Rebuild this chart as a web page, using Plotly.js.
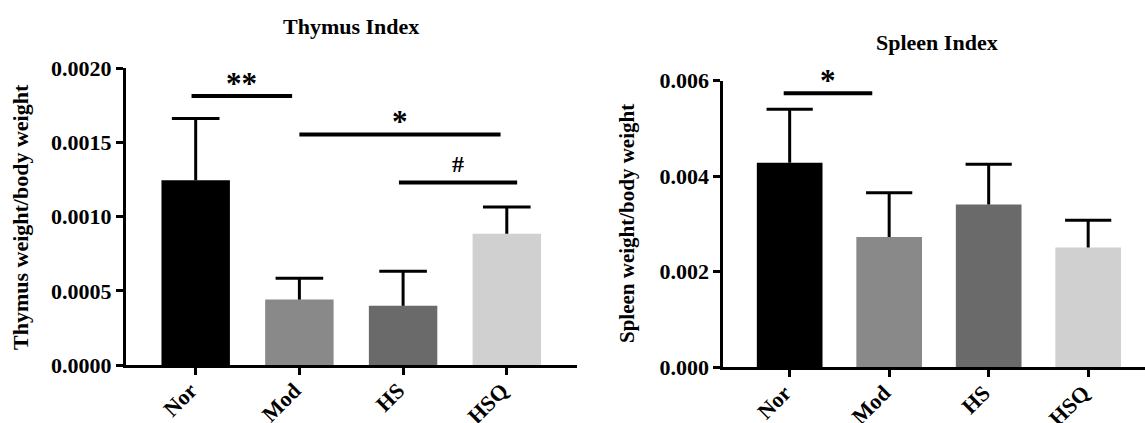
<!DOCTYPE html>
<html>
<head>
<meta charset="utf-8">
<script src="https://cdn.plot.ly/plotly-3.0.1.min.js"></script>
<style>html,body{margin:0;padding:0;background:#fff;}#chart{width:1145px;height:423px;}</style>
</head>
<body>
<div id="chart"></div>
<script>
// ---- data ----
const groups = ['Nor', 'Mod', 'HS', 'HSQ'];
const groupColors = ['#000000', '#898989', '#6a6a6a', '#d0d0d0'];

const thymusMean = [0.001245, 0.000441, 0.000399, 0.000885];
const thymusSD   = [0.000417, 0.000144, 0.000233, 0.000180];

const spleenMean = [0.00428, 0.00273, 0.00341, 0.00251];
const spleenSD   = [0.00112, 0.000925, 0.00084, 0.000567];

// significance brackets (category index units)
const thymusSigFrom = [-0.04, 1.0, 1.96];
const thymusSigTo   = [0.93, 2.94, 3.10];
const thymusSigY    = [0.001813, 0.001554, 0.00123];
const thymusSigText = ['**', '*', '#'];

const spleenSigFrom = [-0.06];
const spleenSigTo   = [0.83];
const spleenSigY    = [0.005736];
const spleenSigText = ['*'];

const thymusTicks = [0, 0.0005, 0.001, 0.0015, 0.002];
const thymusTickText = ['0.0000', '0.0005', '0.0010', '0.0015', '0.0020'];
const spleenTicks = [0, 0.002, 0.004, 0.006];
const spleenTickText = ['0.000', '0.002', '0.004', '0.006'];

// ---- layout helpers ----
const W = 1145, H = 423;
const px = v => v / W;
const py = v => 1 - v / H;
const FONT = 'Liberation Serif, Times New Roman, serif';
const idx = groups.map((_, i) => i);

function barTrace(mean, xa, ya) {
  return {
    type: 'bar', x: idx, y: mean, width: 0.66,
    marker: {color: groupColors, line: {width: 0}},
    xaxis: xa, yaxis: ya, hoverinfo: 'skip', showlegend: false
  };
}
function errTrace(mean, sd, xa, ya, capSize) {
  return {
    type: 'scatter', mode: 'markers', x: idx, y: mean.map((m, i) => m + sd[i]),
    marker: {symbol: 'line-ew', size: capSize, color: '#000', line: {color: '#000', width: 3}},
    error_y: {type: 'data', symmetric: false, array: sd.map(() => 0), arrayminus: sd,
              color: '#000', thickness: 3, width: 0},
    xaxis: xa, yaxis: ya, hoverinfo: 'skip', showlegend: false, cliponaxis: false
  };
}

const traces = [
  barTrace(thymusMean, 'x', 'y'),
  errTrace(thymusMean, thymusSD, 'x', 'y', 34),
  barTrace(spleenMean, 'x2', 'y2'),
  errTrace(spleenMean, spleenSD, 'x2', 'y2', 33)
];

const tickFont = {family: FONT, size: 22, color: '#000', weight: 'bold'};

function xax(domain, range) {
  return {
    domain: domain, range: range, tickmode: 'array', tickvals: idx, ticktext: groups,
    tickangle: -45, ticks: 'outside', ticklen: 7, tickwidth: 3, tickcolor: '#000',
    ticklabelstandoff: -6, ticklabelshift: -5,
    showline: true, linecolor: '#000', linewidth: 3, showgrid: false, zeroline: false,
    tickfont: tickFont, fixedrange: true
  };
}
function yax(domain, range, tv, tt, anchor) {
  return {
    domain: domain, range: range, tickmode: 'array', tickvals: tv, ticktext: tt,
    ticks: 'outside', ticklen: 7, tickwidth: 3, tickcolor: '#000',
    showline: true, linecolor: '#000', linewidth: 3, showgrid: false, zeroline: false,
    tickfont: tickFont, anchor: anchor, fixedrange: true
  };
}

const shapes = [];
const annotations = [];
function addSig(from, to, ys, texts, xr, yr) {
  for (let i = 0; i < from.length; i++) {
    shapes.push({type: 'line', xref: xr, yref: yr, x0: from[i], x1: to[i], y0: ys[i], y1: ys[i],
                 line: {color: '#000', width: 4}});
    const isHash = texts[i] === '#';
    annotations.push({xref: xr, yref: yr, x: (from[i] + to[i]) / 2, y: ys[i], text: texts[i],
      showarrow: false, xanchor: 'center', yanchor: 'bottom', yshift: isHash ? 4 : -7,
      font: {family: FONT, size: isHash ? 24 : 31, color: '#000', weight: 'bold'}});
  }
}
addSig(thymusSigFrom, thymusSigTo, thymusSigY, thymusSigText, 'x', 'y');
addSig(spleenSigFrom, spleenSigTo, spleenSigY, spleenSigText, 'x2', 'y2');

// titles
const titleFont = {family: FONT, size: 22, color: '#000', weight: 'bold'};
annotations.push({xref: 'paper', yref: 'paper', x: px(351), y: py(27), xanchor: 'center', yanchor: 'middle',
  text: 'Thymus Index', showarrow: false, font: titleFont});
annotations.push({xref: 'paper', yref: 'paper', x: px(937), y: py(42), xanchor: 'center', yanchor: 'middle',
  text: 'Spleen Index', showarrow: false, font: titleFont});
annotations.push({xref: 'paper', yref: 'paper', x: px(21), y: py(217), xanchor: 'center', yanchor: 'middle',
  text: 'Thymus weight/body weight', textangle: -90, showarrow: false,
  font: {family: FONT, size: 22, color: '#000', weight: 'bold'}});
annotations.push({xref: 'paper', yref: 'paper', x: px(627), y: py(224), xanchor: 'center', yanchor: 'middle',
  text: 'Spleen weight/body weight', textangle: -90, showarrow: false,
  font: {family: FONT, size: 21, color: '#000', weight: 'bold'}});

const layout = {
  width: W, height: H, margin: {l: 0, r: 0, t: 0, b: 0},
  paper_bgcolor: '#fff', plot_bgcolor: 'rgba(0,0,0,0)',
  showlegend: false,
  xaxis: xax([px(126), px(577)], [-0.672, 3.677]),
  yaxis: yax([py(365), py(68.3)], [0, 0.002], thymusTicks, thymusTickText, 'x'),
  xaxis2: xax([px(723.3), 1], [-0.667, 3.571]),
  yaxis2: yax([py(367.3), py(80.7)], [0, 0.006], spleenTicks, spleenTickText, 'x2'),
  shapes: shapes, annotations: annotations
};
layout.xaxis.anchor = 'y';
layout.xaxis2.anchor = 'y2';

Plotly.newPlot('chart', traces, layout, {displayModeBar: false, staticPlot: true});
</script>
</body>
</html>
